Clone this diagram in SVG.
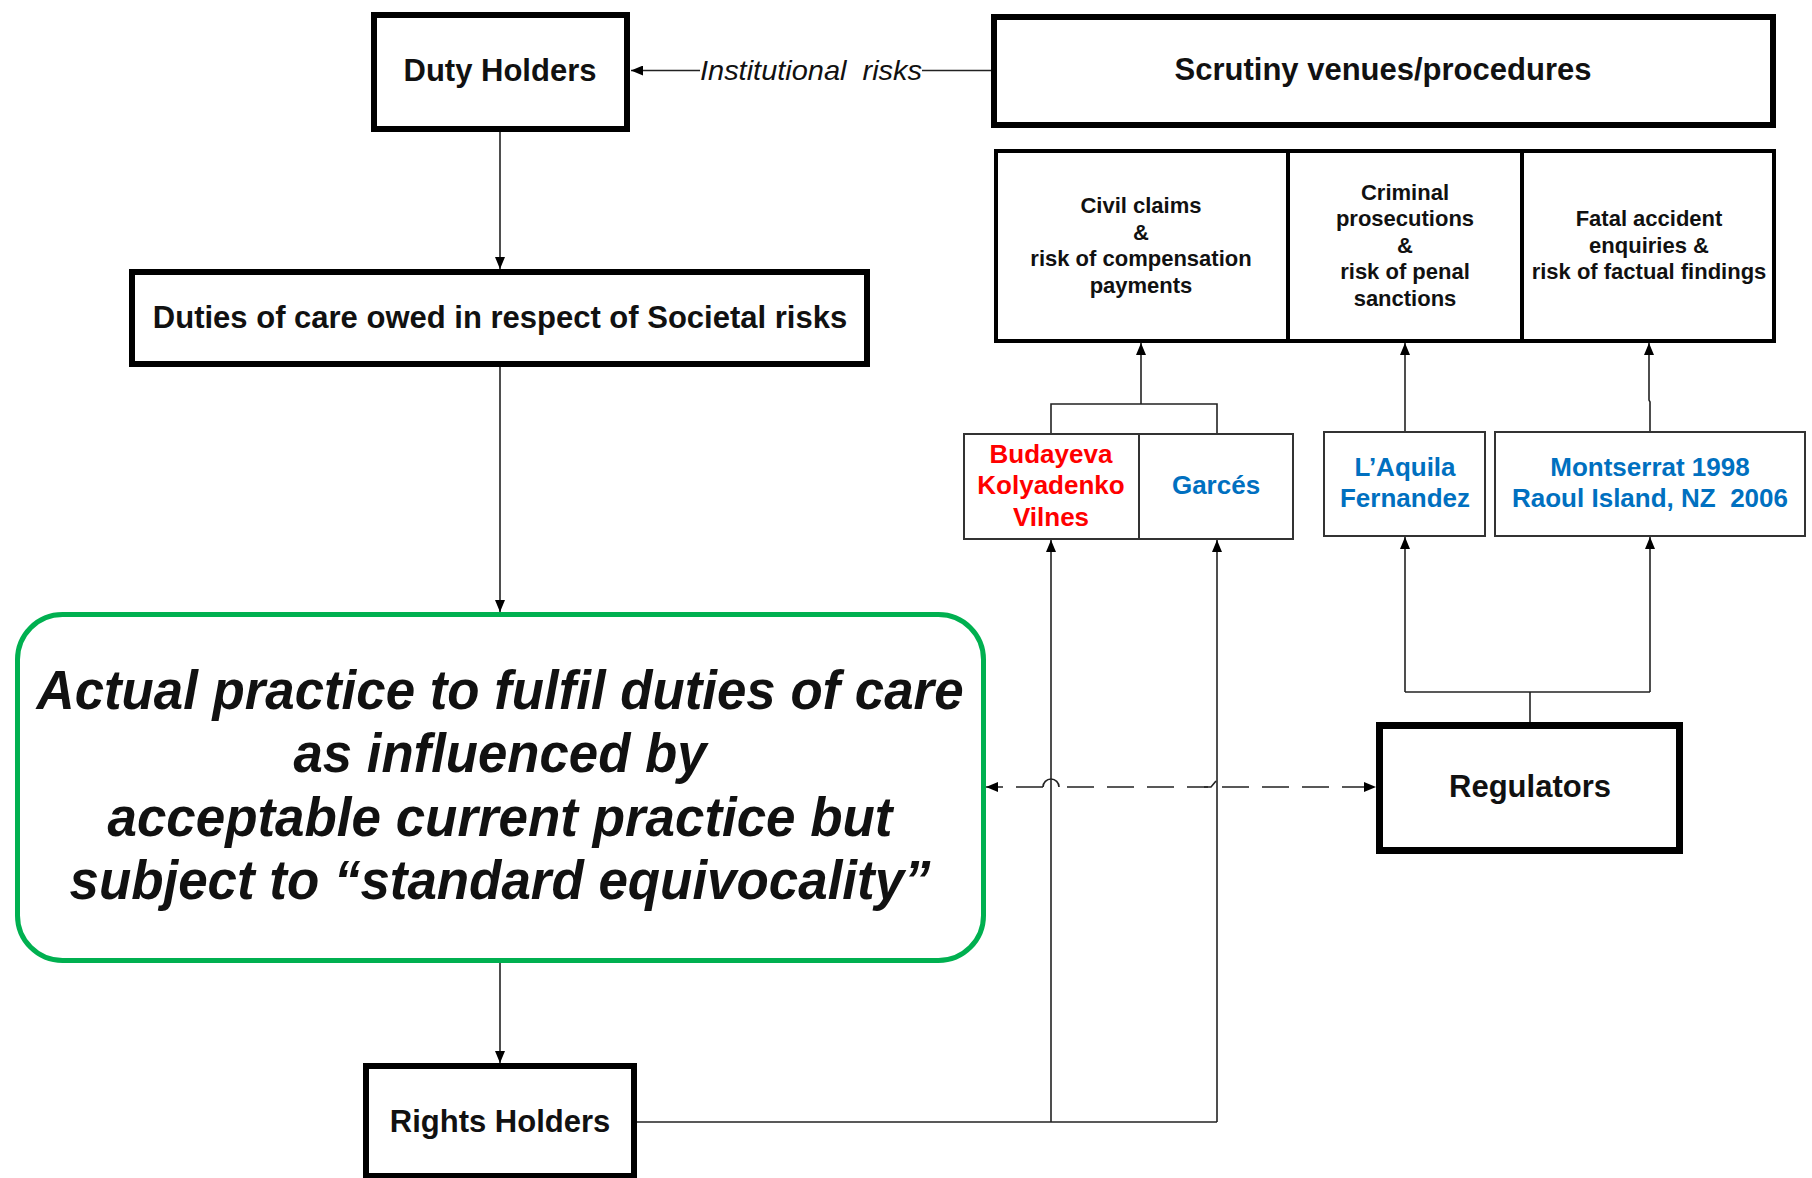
<svg xmlns="http://www.w3.org/2000/svg" width="1812" height="1178" viewBox="0 0 1812 1178">
<style>
text{font-family:"Liberation Sans",Arial,sans-serif;text-anchor:middle;fill:#111;}
.big{font-size:31px;font-weight:bold;}
.mid{font-size:22px;font-weight:bold;}
.case{font-size:26px;font-weight:bold;}
.red{fill:#ff0000;}
.blue{fill:#0070c0;}
.green{font-size:55px;font-weight:bold;font-style:italic;}
.thick{fill:#fff;stroke:#000;stroke-width:6;}
.thin{fill:#fff;stroke:#333;stroke-width:2;}
.conn{fill:none;stroke:#222;stroke-width:1.6;}
.dash{fill:none;stroke:#222;stroke-width:1.6;stroke-dasharray:27 13;}
</style>
<defs>
<marker id="ah" markerUnits="userSpaceOnUse" markerWidth="12" markerHeight="10" refX="12" refY="5" orient="auto-start-reverse">
<path d="M0,0 L12,5 L0,10 z" fill="#000"/>
</marker>
</defs>
<rect width="1812" height="1178" fill="#fff"/>

<g id="connectors">
<path class="conn" d="M500,132 V269" marker-end="url(#ah)"/>
<path class="conn" d="M500,367 V612" marker-end="url(#ah)"/>
<path class="conn" d="M500,963 V1063" marker-end="url(#ah)"/>
<path class="conn" d="M700,70.5 H631" marker-end="url(#ah)"/>
<path class="conn" d="M991,70.5 H922"/>
<path class="conn" d="M637,1122 H1217"/>
<path class="conn" d="M1051,1122 V540" marker-end="url(#ah)"/>
<path class="conn" d="M1217,1122 V540" marker-end="url(#ah)"/>
<path class="conn" d="M1051,434 V404 H1217 V434"/>
<path class="conn" d="M1141,404 V343" marker-end="url(#ah)"/>
<path class="conn" d="M1405,431 V343" marker-end="url(#ah)"/>
<path class="conn" d="M1650,431 V402 L1649,400 V343" marker-end="url(#ah)"/>
<path class="conn" d="M1530,722 V692"/>
<path class="conn" d="M1405,692 H1650"/>
<path class="conn" d="M1405,692 V537" marker-end="url(#ah)"/>
<path class="conn" d="M1650,692 V537" marker-end="url(#ah)"/>
<path class="dash" d="M1043,787 H986" marker-end="url(#ah)"/>
<path class="conn" d="M1043,787 A8,8 0 0 1 1059,787"/>
<path class="dash" d="M1067,787 H1208"/>
<path class="conn" d="M1204,787 H1211 L1216,781"/>
<path class="dash" d="M1222,787 H1376" marker-end="url(#ah)"/>
</g>

<g id="duty-holders">
<rect class="thick" x="374" y="15" width="253" height="114"/>
<text class="big" x="500" y="81">Duty Holders</text>
</g>

<g id="institutional-risks-label">
<text x="811" y="80" style="font-size:28px;font-style:italic;white-space:pre" textLength="222" lengthAdjust="spacingAndGlyphs">Institutional  risks</text>
</g>

<g id="scrutiny">
<rect class="thick" x="994" y="17" width="779" height="108"/>
<text class="big" x="1383" y="80">Scrutiny venues/procedures</text>
</g>

<g id="venues">
<rect fill="#fff" stroke="#000" stroke-width="4" x="996" y="151" width="778" height="190"/>
<line x1="1288" y1="151" x2="1288" y2="341" stroke="#000" stroke-width="4"/>
<line x1="1522" y1="151" x2="1522" y2="341" stroke="#000" stroke-width="4"/>
</g>

<g id="civil-claims">
<text class="mid" x="1141" y="213">Civil claims</text>
<text class="mid" x="1141" y="239.5">&amp;</text>
<text class="mid" x="1141" y="266">risk of compensation</text>
<text class="mid" x="1141" y="292.5">payments</text>
</g>

<g id="criminal-prosecutions">
<text class="mid" x="1405" y="199.5">Criminal</text>
<text class="mid" x="1405" y="226">prosecutions</text>
<text class="mid" x="1405" y="252.5">&amp;</text>
<text class="mid" x="1405" y="279">risk of penal</text>
<text class="mid" x="1405" y="305.5">sanctions</text>
</g>

<g id="fatal-accident">
<text class="mid" x="1649" y="226">Fatal accident</text>
<text class="mid" x="1649" y="252.5">enquiries &amp;</text>
<text class="mid" x="1649" y="279">risk of factual findings</text>
</g>

<g id="cases-civil">
<rect class="thin" x="964" y="434" width="329" height="105"/>
<line x1="1139" y1="434" x2="1139" y2="539" stroke="#333" stroke-width="2"/>
<text class="case red" x="1051" y="463">Budayeva</text>
<text class="case red" x="1051" y="494">Kolyadenko</text>
<text class="case red" x="1051" y="526">Vilnes</text>
<text class="case blue" x="1216" y="494">Garcés</text>
</g>

<g id="cases-criminal">
<rect class="thin" x="1324" y="432" width="161" height="104"/>
<text class="case blue" x="1405" y="476">L’Aquila</text>
<text class="case blue" x="1405" y="507">Fernandez</text>
</g>

<g id="cases-fatal">
<rect class="thin" x="1495" y="432" width="310" height="104"/>
<text class="case blue" x="1650" y="476">Montserrat 1998</text>
<text class="case blue" x="1650" y="507" style="white-space:pre">Raoul Island, NZ  2006</text>
</g>

<g id="duties-of-care">
<rect class="thick" x="132" y="272" width="735" height="92"/>
<text class="big" x="500" y="328">Duties of care owed in respect of Societal risks</text>
</g>

<g id="actual-practice">
<rect x="17.5" y="614.5" width="966" height="346" rx="45" fill="#fff" stroke="#00b050" stroke-width="5"/>
<text class="green" x="500" y="709" textLength="927" lengthAdjust="spacingAndGlyphs">Actual practice to fulfil duties of care</text>
<text class="green" x="500" y="772" textLength="413" lengthAdjust="spacingAndGlyphs">as influenced by</text>
<text class="green" x="500" y="836" textLength="785" lengthAdjust="spacingAndGlyphs">acceptable current practice but</text>
<text class="green" x="500" y="899" textLength="861" lengthAdjust="spacingAndGlyphs">subject to “standard equivocality”</text>
</g>

<g id="regulators">
<rect fill="#fff" stroke="#000" stroke-width="7" x="1379.5" y="725.5" width="300" height="125"/>
<text class="big" x="1530" y="797">Regulators</text>
</g>

<g id="rights-holders">
<rect class="thick" x="366" y="1066" width="268" height="110"/>
<text class="big" x="500" y="1132">Rights Holders</text>
</g>
</svg>
